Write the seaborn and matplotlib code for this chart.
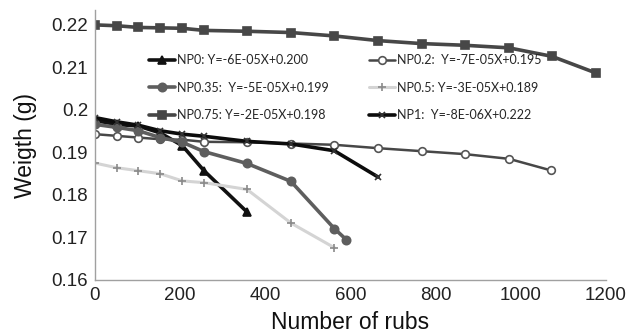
import pandas as pd
import seaborn as sns
import matplotlib
matplotlib.use("Agg")
import matplotlib.pyplot as plt

# values
x_np0 = [0, 51, 102, 153, 205, 256, 357]
y_np0 = [0.1975, 0.1966, 0.1962, 0.1946, 0.1916, 0.1857, 0.1760]

x_np02 = [0, 51, 102, 153, 205, 256, 357, 460, 562, 665, 767, 869, 972, 1070]
y_np02 = [0.1943, 0.1939, 0.1935, 0.1931, 0.1930, 0.1925, 0.1924, 0.1921,
          0.1918, 0.1910, 0.1903, 0.1896, 0.1885, 0.1858]

x_np035 = [0, 51, 102, 153, 205, 256, 357, 460, 562, 590]
y_np035 = [0.1966, 0.1959, 0.1951, 0.1935, 0.1924, 0.1902, 0.1874, 0.1832,
           0.1721, 0.1695]

x_np05 = [0, 51, 102, 153, 205, 256, 357, 460, 562]
y_np05 = [0.1875, 0.1864, 0.1857, 0.1850, 0.1833, 0.1829, 0.1813, 0.1734, 0.1676]

x_np075 = [0, 51, 102, 153, 205, 256, 357, 460, 562, 665, 767, 869, 972, 1073, 1176]
y_np075 = [0.2200, 0.2198, 0.2194, 0.2193, 0.2192, 0.2187, 0.2185, 0.2182,
           0.2174, 0.2163, 0.2156, 0.2152, 0.2146, 0.2126, 0.2087]

x_np1 = [0, 51, 102, 153, 205, 256, 357, 460, 562, 665]
y_np1 = [0.1982, 0.1972, 0.1964, 0.1951, 0.1943, 0.1938, 0.1926, 0.1920,
         0.1904, 0.1842]

labels = [
    "NP0: Y=-6E-05X+0.200",
    "NP0.2:  Y=-7E-05X+0.195",
    "NP0.35:  Y=-5E-05X+0.199",
    "NP0.5: Y=-3E-05X+0.189",
    "NP0.75: Y=-2E-05X+0.198",
    "NP1:  Y=-8E-06X+0.222",
]

x_ticks = [0, 200, 400, 600, 800, 1000, 1200]
y_ticks = [0.16, 0.17, 0.18, 0.19, 0.2, 0.21, 0.22]
y_ticklabels = ["0.16", "0.17", "0.18", "0.19", "0.2", "0.21", "0.22"]

# style per series: line colour, width, marker, marker size, face, edge
STYLES = [
    dict(color="#111111", lw=2.6, marker="^", ms=6, mfc="#111111", mec="#111111"),
    dict(color="#474747", lw=1.8, marker="o", ms=5.5, mfc="white", mec="#555555"),
    dict(color="#5e5e5e", lw=2.6, marker="o", ms=6, mfc="#5e5e5e", mec="#5e5e5e"),
    dict(color="#d4d4d4", lw=2.2, marker="+", ms=6, mfc="#8a8a8a", mec="#8a8a8a"),
    dict(color="#474747", lw=2.6, marker="s", ms=5.5, mfc="#474747", mec="#474747"),
    dict(color="#0c0c0c", lw=2.6, marker="x", ms=5, mfc="#333333", mec="#333333"),
]


def main():
    series = [(x_np0, y_np0), (x_np02, y_np02), (x_np035, y_np035),
              (x_np05, y_np05), (x_np075, y_np075), (x_np1, y_np1)]

    sns.set_theme(style="white")
    plt.rcParams["font.family"] = ["Liberation Sans", "DejaVu Sans"]

    fig = plt.figure(figsize=(6.32, 3.33), dpi=100)
    # plot area: x 95..606 px, y 10..280 px
    ax = fig.add_axes([95 / 632, 53 / 333, 511 / 632, 270 / 333])

    handles = []
    for (xs, ys), lab, st in zip(series, labels, STYLES):
        df = pd.DataFrame({"rubs": xs, "weight": ys})
        sns.lineplot(data=df, x="rubs", y="weight", ax=ax, color=st["color"],
                     linewidth=st["lw"], marker=st["marker"], markersize=st["ms"],
                     markerfacecolor=st["mfc"], markeredgecolor=st["mec"],
                     markeredgewidth=1.2, label=lab, legend=False)
        handles.append(ax.lines[-1])

    ax.set(xlim=(0, 1200), ylim=(0.16, 0.2235))
    ax.set_xticks(x_ticks)
    ax.set_yticks(y_ticks)
    ax.set_yticklabels(y_ticklabels)
    ax.tick_params(length=0, labelsize=13.5, colors="#222222", pad=5)
    ax.set_xlabel("Number of rubs", fontsize=16.5, color="#111111", labelpad=5)
    ax.set_ylabel("Weigth (g)", fontsize=16.5, color="#111111", labelpad=10)

    sns.despine(ax=ax)
    for side in ("left", "bottom"):
        ax.spines[side].set_color("#a0a0a0")
        ax.spines[side].set_linewidth(1.0)

    # legend fills row by row in the reference
    order = [0, 2, 4, 1, 3, 5]
    ax.legend([handles[i] for i in order], [labels[i] for i in order],
              ncol=2, frameon=False, loc="upper left",
              bbox_to_anchor=(149 / 632, 1 - 54 / 333), bbox_transform=fig.transFigure,
              borderaxespad=0, borderpad=0, handlelength=2.1,
              handletextpad=0.15, columnspacing=3.2, labelspacing=1.25,
              prop={"family": ["Lato", "DejaVu Sans"], "size": 9})

    fig.savefig("out.png", dpi=100)


if __name__ == "__main__":
    main()
